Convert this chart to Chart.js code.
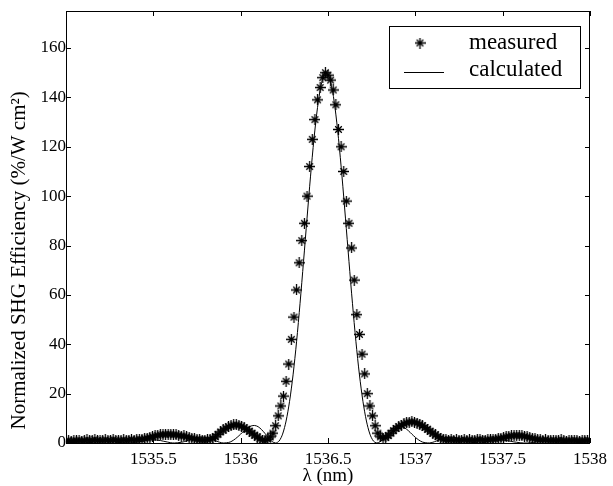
<!DOCTYPE html>
<html>
<head>
<meta charset="utf-8">
<title>Normalized SHG efficiency</title>
<script src="https://cdn.jsdelivr.net/npm/chart.js@4.4.1/dist/chart.umd.min.js"></script>
<style>
  body { margin: 0; background: #fff; }
</style>
</head>
<body>
<canvas id="shgChart" width="613" height="486"></canvas>
<script>
// measured points: one every 0.015 nm starting at 1535 nm
var measuredStart = 1535.0;
var measuredStep = 0.015;
var measuredEff = [
    0.8, 1.0, 0.7, 1.1, 0.9, 1.2, 0.8, 1.0, 1.3, 0.9, 1.1, 1.4, 1.0, 1.2, 0.9, 1.3,
    1.1, 1.0, 1.4, 1.2, 0.9, 1.1, 1.3, 1.0, 1.2, 1.5, 1.1, 1.3, 1.6, 1.4, 1.8,
    2.0, 2.3, 2.6, 2.9, 3.1, 3.3, 3.5, 3.4, 3.6, 3.5, 3.3, 3.4, 3.1, 2.8, 2.9, 2.5,
    2.2, 2.0, 1.7, 1.5,
    1.3, 1.2, 1.1, 1.3, 1.5, 1.9,
    2.5, 3.5, 4.5, 5.3, 6.0, 6.6, 7.0, 7.3, 7.4, 7.2, 6.8, 6.2, 5.6, 4.8, 4.0, 3.2,
    2.4, 1.7, 1.2,
    1.0, 1.5, 2.5, 4, 7, 11, 15, 19, 25, 32,
    42, 51, 62, 73, 82, 89, 100, 112, 123, 131,
    139, 144, 148, 150, 149, 147, 143, 137, 127, 120,
    110, 98, 89, 79, 66, 52, 44, 36, 28, 20,
    15, 11, 7, 4, 2.5, 2, 2.2, 3.0, 4.0, 5.0,
    5.9, 6.6, 7.2, 7.8, 8.2, 8.5, 8.6, 8.5, 8.1, 7.6,
    7.0, 6.3, 5.6, 4.8, 4.0, 3.3, 2.6, 2.0, 1.5,
    1.3, 1.2, 1.4, 1.1, 1.3, 1.0, 1.2, 1.4, 1.1, 1.3, 1.2, 1.0, 1.3, 1.5, 1.2, 1.1,
    1.4, 1.3, 1.6, 1.5, 1.8, 2.0, 2.2, 2.5, 2.7, 2.9,
    3.0, 3.1, 2.9, 3.0, 2.7, 2.5, 2.2, 1.9, 1.7, 1.5,
    1.3, 1.2, 1.4, 1.1, 1.0, 1.2, 0.9, 1.1, 1.3, 1.0, 0.8, 1.1, 0.9, 1.2, 1.0, 0.8,
    1.1, 0.9, 1.2, 1.0
];

// calculated curve: one value every 0.02 nm starting at 1535 nm
var calcStart = 1535.0;
var calcStep = 0.02;
var calcEff = [
    0.4, 0.3, 0.2, 0.1, 0, 0, 0.1, 0.2, 0.4, 0.5,
    0.6, 0.7, 0.7, 0.6, 0.5, 0.3, 0.1, 0, 0, 0.1,
    0.3, 0.5, 0.8, 1.0, 1.2, 1.3, 1.2, 1.0, 0.7, 0.4,
    0.1, 0, 0.1, 0.3, 0.6, 1.1, 1.6, 2.0, 2.3, 2.4,
    2.2, 1.9, 1.4, 0.8, 0.3, 0, 0.1, 0.4, 1.2, 2.3,
    3.6, 5.0, 6.1, 6.9, 7.1, 6.6, 5.4, 3.8, 2.1, 0.6,
    0, 0.8, 3.6, 8.9, 16.9, 27.6, 41.0, 56.6, 73.6, 91.1,
    108.1, 123.4, 135.9, 144.8, 149.4,
    149.4, 144.8, 135.9, 123.4, 108.1, 91.1, 73.6, 56.6, 41.0, 27.6,
    16.9, 8.9, 3.6, 0.8, 0, 0.6, 2.1, 3.8, 5.4, 6.6,
    7.1, 6.9, 6.1, 5.0, 3.6, 2.3, 1.2, 0.4, 0.1, 0,
    0.3, 0.8, 1.4, 1.9, 2.2, 2.4, 2.3, 2.0, 1.6, 1.1,
    0.6, 0.3, 0.1, 0, 0.1, 0.4, 0.7, 1.0, 1.2, 1.3,
    1.2, 1.0, 0.8, 0.5, 0.3, 0.1, 0, 0, 0.1, 0.3,
    0.5, 0.6, 0.7, 0.7, 0.6, 0.5, 0.4, 0.2, 0.1, 0,
    0, 0.1, 0.2, 0.3, 0.4, 0.4
];

var xTicks = [1535.5, 1536, 1536.5, 1537, 1537.5, 1538];
var yTicks = [0, 20, 40, 60, 80, 100, 120, 140, 160];
var seriesNames = ['measured', 'calculated'];
var yTitle = 'Normalized SHG Efficiency (%/W cm²)';

var serif = '"Liberation Serif", "Times New Roman", serif';

function toPoints(start, step, values) {
    return values.map(function (v, i) {
        return { x: +(start + i * step).toFixed(4), y: v };
    });
}

// the '*' marker, drawn once and reused for every measured point
function starMarker() {
    var c = document.createElement('canvas');
    c.width = 11; c.height = 11;
    var g = c.getContext('2d');
    g.strokeStyle = '#000';
    g.lineWidth = 1.3;
    g.beginPath();
    g.moveTo(5.5, 0); g.lineTo(5.5, 11);
    g.moveTo(0, 5.5); g.lineTo(11, 5.5);
    g.moveTo(2.2, 2.2); g.lineTo(8.8, 8.8);
    g.moveTo(8.8, 2.2); g.lineTo(2.2, 8.8);
    g.stroke();
    g.beginPath();
    g.arc(5.5, 5.5, 1.8, 0, Math.PI * 2);
    g.fillStyle = '#000';
    g.fill();
    return c;
}
var star = starMarker();

// box round the plot, inward ticks on all sides, y title and the legend box
var frameAndLegend = {
    id: 'frameAndLegend',
    afterDraw: function (chart) {
        var ctx = chart.ctx, a = chart.chartArea;
        var xs = chart.scales.x, ys = chart.scales.y;
        ctx.save();
        ctx.strokeStyle = '#000';
        ctx.lineWidth = 1;
        ctx.strokeRect(a.left + 0.5, a.top + 0.5, a.right - a.left - 1, a.bottom - a.top);
        ctx.beginPath();
        xTicks.forEach(function (v) {
            var px = Math.round(xs.getPixelForValue(v)) + 0.5;
            ctx.moveTo(px, a.bottom); ctx.lineTo(px, a.bottom - 5);
            ctx.moveTo(px, a.top); ctx.lineTo(px, a.top + 5);
        });
        yTicks.forEach(function (v) {
            var py = Math.round(ys.getPixelForValue(v)) + 0.5;
            ctx.moveTo(a.left, py); ctx.lineTo(a.left + 5, py);
            ctx.moveTo(a.right, py); ctx.lineTo(a.right - 5, py);
        });
        ctx.stroke();

        // y axis title, sat a little below the middle of the axis as in the original
        ctx.save();
        ctx.translate(19, ys.getPixelForValue(74));
        ctx.rotate(-Math.PI / 2);
        ctx.fillStyle = '#000';
        ctx.font = '21px ' + serif;
        ctx.textAlign = 'center';
        ctx.textBaseline = 'middle';
        ctx.fillText(yTitle, 0, 0);
        ctx.restore();

        // legend
        var bx = a.right - 10 - 191, by = a.top + 15;
        ctx.fillStyle = '#fff';
        ctx.fillRect(bx, by, 191, 62);
        ctx.strokeRect(bx + 0.5, by + 0.5, 191, 62);
        ctx.drawImage(star, bx + 31 - 5.5, by + 17 - 5.5);
        ctx.lineWidth = 1;
        ctx.beginPath();
        ctx.moveTo(bx + 15, by + 46.5); ctx.lineTo(bx + 55, by + 46.5);
        ctx.stroke();
        ctx.fillStyle = '#000';
        ctx.font = '23px ' + serif;
        ctx.textBaseline = 'middle';
        ctx.fillText(seriesNames[0], bx + 80, by + 17);
        ctx.fillText(seriesNames[1], bx + 80, by + 44);
        ctx.restore();
    }
};

var ctx = document.getElementById('shgChart').getContext('2d');
var myChart = new Chart(ctx, {
    type: 'scatter',
    data: {
        datasets: [{
            label: seriesNames[1],
            data: toPoints(calcStart, calcStep, calcEff),
            showLine: true,
            borderColor: '#000',
            borderWidth: 1,
            pointRadius: 0,
            tension: 0.3
        }, {
            label: seriesNames[0],
            data: toPoints(measuredStart, measuredStep, measuredEff),
            pointStyle: star,
            pointRadius: 5,
            showLine: false
        }]
    },
    plugins: [frameAndLegend],
    options: {
        responsive: false,
        animation: false,
        devicePixelRatio: 1,
        layout: { padding: { left: 0, right: 21, top: 11, bottom: 0 } },
        scales: {
            x: {
                type: 'linear',
                min: 1535,
                max: 1538,
                grid: { display: false, drawTicks: false },
                border: { display: false },
                afterBuildTicks: function (scale) {
                    scale.ticks = xTicks.map(function (v) { return { value: v }; });
                },
                afterFit: function (scale) { scale.height = 43; },
                ticks: {
                    color: '#000',
                    padding: 6,
                    maxRotation: 0,
                    font: { family: serif, size: 17 },
                    callback: function (v) { return String(v); }
                },
                title: {
                    display: true,
                    text: 'λ (nm)',
                    color: '#000',
                    padding: { top: 0, bottom: 0 },
                    font: { family: serif, size: 19, lineHeight: 1 }
                }
            },
            y: {
                min: 0,
                max: 175,
                grid: { display: false, drawTicks: false },
                border: { display: false },
                afterBuildTicks: function (scale) {
                    scale.ticks = yTicks.map(function (v) { return { value: v }; });
                },
                afterFit: function (scale) { scale.width = 66; },
                ticks: {
                    color: '#000',
                    padding: 0,
                    font: { family: serif, size: 17 },
                    callback: function (v) { return String(v); }
                },
                title: { display: false }
            }
        },
        plugins: {
            legend: { display: false },
            tooltip: { enabled: false }
        }
    }
});
</script>
</body>
</html>
